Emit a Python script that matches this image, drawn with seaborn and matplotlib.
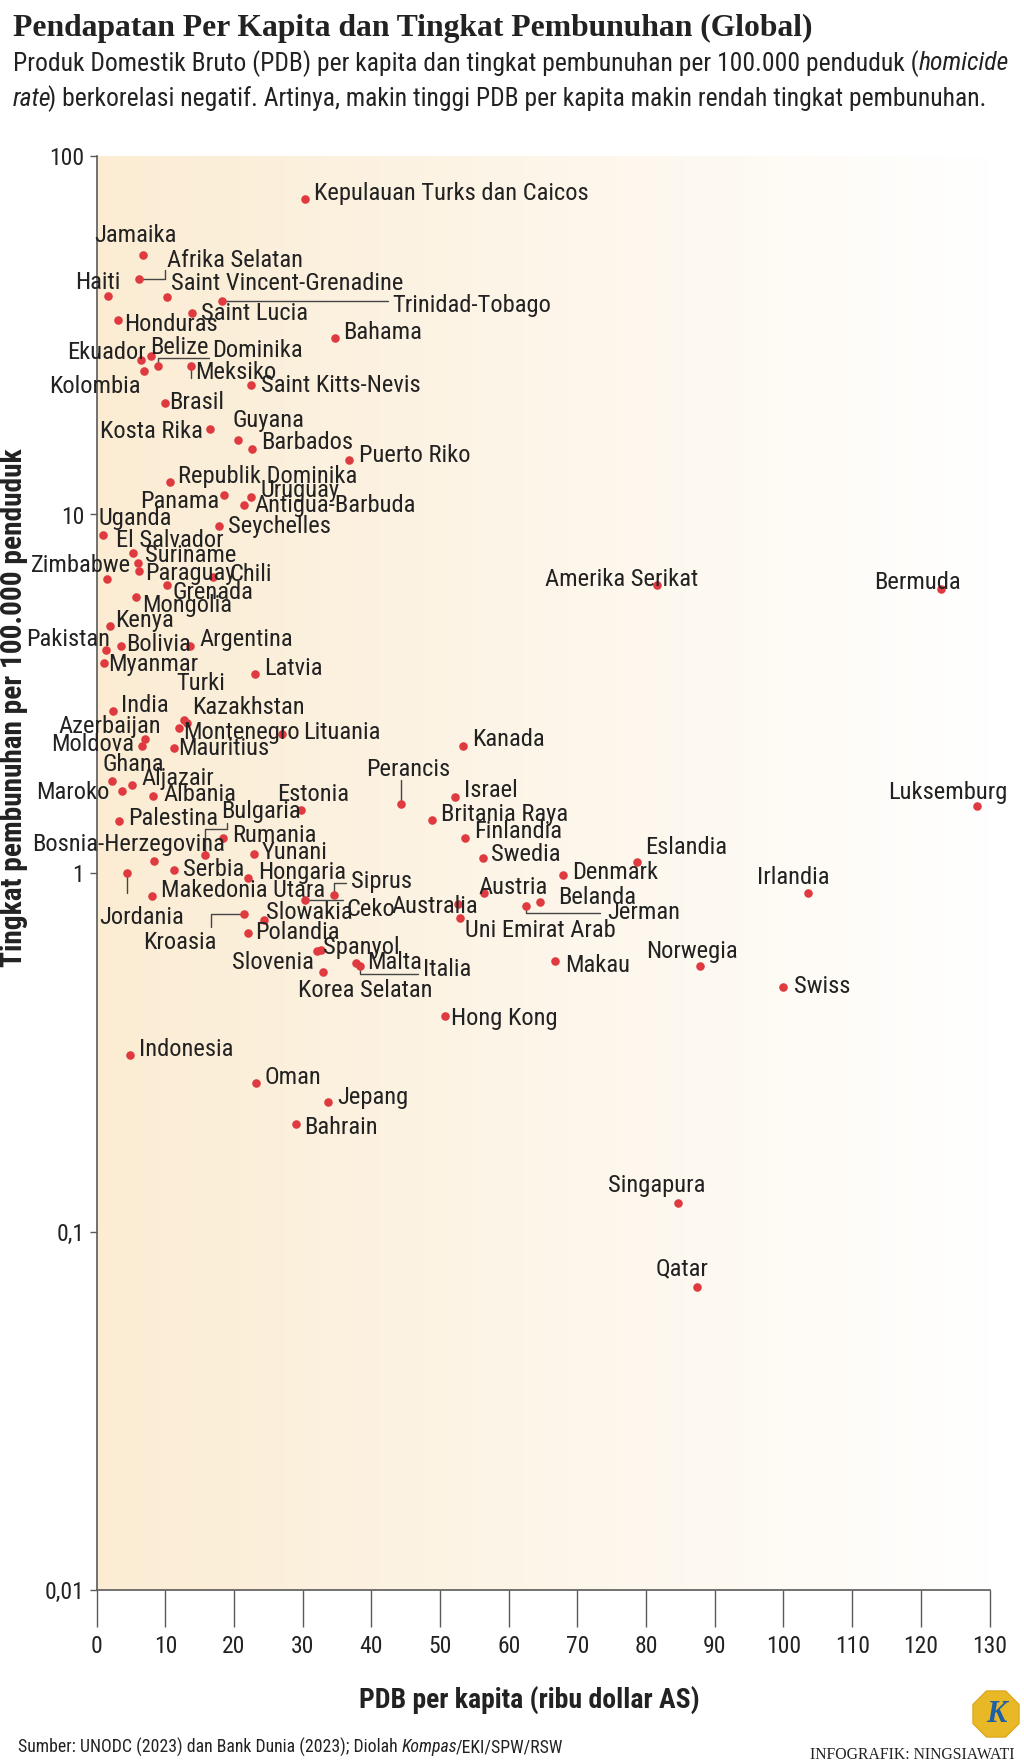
import numpy as np
import matplotlib
matplotlib.use("Agg")
import matplotlib.pyplot as plt
import seaborn as sns
from matplotlib import font_manager as fm
from matplotlib.patches import RegularPolygon
from matplotlib.transforms import IdentityTransform
from matplotlib.ticker import NullLocator

# ---------------- data ----------------
countries = [
    "Kepulauan Turks dan Caicos", "Jamaika", "Afrika Selatan", "Haiti", "Saint Vincent-Grenadine",
    "Trinidad-Tobago", "Saint Lucia", "Honduras", "Bahama", "Ekuador", "Belize", "Dominika",
    "Kolombia", "Meksiko", "Saint Kitts-Nevis", "Brasil", "Kosta Rika", "Guyana", "Barbados",
    "Puerto Riko", "Republik Dominika", "Panama", "Uruguay", "Antigua-Barbuda", "Seychelles",
    "Uganda", "El Salvador", "Zimbabwe", "Suriname", "Paraguay", "Chili", "Grenada", "Mongolia",
    "Kenya", "Pakistan", "Bolivia", "Argentina", "Myanmar", "Latvia", "Turki", "Kazakhstan",
    "Montenegro", "Lituania", "Mauritius", "India", "Azerbaijan", "Moldova", "Ghana", "Maroko",
    "Aljazair", "Albania", "Palestina", "Estonia", "Bulgaria", "Rumania", "Bosnia-Herzegovina",
    "Jordania", "Serbia", "Makedonia Utara", "Yunani", "Hongaria", "Kroasia", "Slowakia",
    "Polandia", "Ceko", "Siprus", "Slovenia", "Spanyol", "Korea Selatan", "Malta", "Italia",
    "Perancis", "Israel", "Britania Raya", "Finlandia", "Swedia", "Denmark", "Eslandia", "Austria",
    "Australia", "Uni Emirat Arab", "Belanda", "Jerman", "Makau", "Hong Kong", "Kanada",
    "Amerika Serikat", "Bermuda", "Luksemburg", "Irlandia", "Norwegia", "Swiss", "Indonesia",
    "Oman", "Jepang", "Bahrain", "Singapura", "Qatar",
]
gdp_per_capita = [
    30.3, 6.8, 6.2, 1.6, 10.2,
    18.2, 13.9, 3.1, 34.7, 6.45, 7.9, 8.9,
    6.9, 13.8, 22.5, 9.9, 16.5, 20.6, 22.6,
    36.7, 10.7, 18.6, 22.5, 21.4, 17.8,
    0.87, 5.3, 1.55, 5.95, 6.15, 16.9, 10.3, 5.7,
    1.9, 1.3, 3.6, 13.6, 1.06, 23.1, 12.75, 13.1,
    11.98, 27.0, 11.3, 2.4, 7.08, 6.55, 2.18, 3.64,
    5.2, 8.25, 3.3, 29.7, 15.7, 18.35, 8.3,
    4.37, 11.25, 8.1, 22.9, 22.0, 21.4, 24.4,
    22.0, 30.3, 34.6, 32.1, 32.6, 33.0, 37.75, 38.3,
    44.35, 52.2, 48.8, 53.7, 56.2, 67.9, 78.7, 56.4,
    52.65, 52.9, 64.6, 62.5, 66.8, 50.65, 53.3,
    81.6, 122.9, 128.2, 103.6, 87.85, 99.9, 4.82,
    23.2, 33.7, 29.0, 84.6, 87.4,
]
homicide_rate = [
    76.0, 52.9, 45.3, 40.7, 40.3,
    39.3, 36.5, 34.9, 31.1, 26.9, 27.7, 26.0,
    25.2, 25.9, 23.0, 20.5, 17.3, 16.1, 15.2,
    14.2, 12.35, 11.3, 11.2, 10.6, 9.3,
    8.75, 7.8, 6.6, 7.3, 6.95, 6.7, 6.35, 5.9,
    4.9, 4.2, 4.3, 4.3, 3.86, 3.6, 2.68, 2.62,
    2.54, 2.44, 2.23, 2.83, 2.37, 2.26, 1.81, 1.69,
    1.76, 1.64, 1.40, 1.50, 1.12, 1.25, 1.08,
    1.0, 1.02, 0.86, 1.13, 0.97, 0.77, 0.74,
    0.68, 0.84, 0.87, 0.607, 0.61, 0.53, 0.56, 0.55,
    1.56, 1.63, 1.41, 1.25, 1.10, 0.99, 1.07, 0.88,
    0.82, 0.75, 0.83, 0.81, 0.57, 0.40, 2.26,
    6.36, 6.18, 1.535, 0.88, 0.55, 0.48, 0.31,
    0.26, 0.23, 0.20, 0.12, 0.07,
]
x_ticks = [0, 10, 20, 30, 40, 50, 60, 70, 80, 90, 100, 110, 120, 130]
x_tick_labels = [str(v) for v in x_ticks]
y_ticks = [0.01, 0.1, 1, 10, 100]
y_tick_labels = ["0,01", "0,1", "1", "10", "100"]

title = "Pendapatan Per Kapita dan Tingkat Pembunuhan (Global)"
subtitle_1 = [("Produk Domestik Bruto (PDB) per kapita dan tingkat pembunuhan per 100.000 penduduk (", "normal"),
              ("homicide", "italic")]
subtitle_2 = [("rate", "italic"),
              (") berkorelasi negatif. Artinya, makin tinggi PDB per kapita makin rendah tingkat pembunuhan.", "normal")]
source_parts = [("Sumber: UNODC (2023) dan Bank Dunia (2023); Diolah ", "normal"), ("Kompas", "italic"),
                ("/EKI/SPW/RSW", "normal")]
credit = "INFOGRAFIK: NINGSIAWATI"
x_label = "PDB per kapita (ribu dollar AS)"
y_label = "Tingkat pembunuhan per 100.000 penduduk"

# ---------------- label layout (pixel offsets from dot, image y-down) ----------------
label_pos = {
    "Kepulauan Turks dan Caicos": (9, -8, "left"), "Jamaika": (-8, -22, "center"),
    "Afrika Selatan": (28, -21, "left"), "Haiti": (13, -16, "right"),
    "Saint Vincent-Grenadine": (4, -16, "left"), "Trinidad-Tobago": (171, 2, "left"),
    "Saint Lucia": (9, -2, "left"), "Honduras": (6, 2, "left"), "Bahama": (8, -8, "left"),
    "Ekuador": (5, -10, "right"), "Belize": (-1, -11, "left"), "Dominika": (54, -18, "left"),
    "Kolombia": (-3, 13, "right"), "Meksiko": (4, 4, "left"), "Saint Kitts-Nevis": (10, -2, "left"),
    "Brasil": (4, -3, "left"), "Kosta Rika": (-7, 0, "right"), "Guyana": (-6, -22, "left"),
    "Barbados": (9, -9, "left"), "Puerto Riko": (10, -7, "left"), "Republik Dominika": (8, -8, "left"),
    "Panama": (-5, 4, "right"), "Uruguay": (9, -9, "left"), "Antigua-Barbuda": (11, -2, "left"),
    "Seychelles": (9, -2, "left"), "Uganda": (-4, -19, "left"), "El Salvador": (-17, -15, "left"),
    "Zimbabwe": (24, -16, "right"), "Suriname": (7, -10, "left"), "Paraguay": (6, 0, "left"),
    "Chili": (17, -5, "left"), "Grenada": (5, 5, "left"), "Mongolia": (6, 6, "left"),
    "Kenya": (5, -8, "left"), "Pakistan": (4, -13, "right"), "Bolivia": (5, -4, "left"),
    "Argentina": (9, -9, "left"), "Myanmar": (4, -1, "left"), "Latvia": (9, -8, "left"),
    "Turki": (-8, -39, "left"), "Kazakhstan": (5, -18, "left"), "Montenegro": (4, 2, "left"),
    "Lituania": (21, -4, "left"), "Mauritius": (4, -2, "left"), "India": (8, -8, "left"),
    "Azerbaijan": (16, -15, "right"), "Moldova": (-8, -4, "right"), "Ghana": (-9, -19, "left"),
    "Maroko": (-12, -1, "right"), "Aljazair": (9, -9, "left"), "Albania": (10, -4, "left"),
    "Palestina": (9, -5, "left"), "Estonia": (-24, -18, "left"), "Bulgaria": (17, -46, "left"),
    "Rumania": (9, -5, "left"), "Bosnia-Herzegovina": (71, -19, "right"),
    "Jordania": (15, 42, "center"), "Serbia": (9, -3, "left"), "Makedonia Utara": (9, -8, "left"),
    "Yunani": (8, -4, "left"), "Hongaria": (10, -8, "left"), "Kroasia": (-27, 26, "right"),
    "Slowakia": (2, -10, "left"), "Polandia": (7, -3, "left"), "Ceko": (42, 7, "left"),
    "Siprus": (17, -16, "left"), "Slovenia": (-3, 9, "right"), "Spanyol": (2, -5, "left"),
    "Korea Selatan": (-25, 16, "left"), "Malta": (11, -3, "left"), "Italia": (63, 1, "left"),
    "Perancis": (7, -37, "center"), "Israel": (9, -9, "left"), "Britania Raya": (9, -8, "left"),
    "Finlandia": (9, -9, "left"), "Swedia": (8, -6, "left"), "Denmark": (9, -5, "left"),
    "Eslandia": (8, -17, "left"), "Austria": (-6, -8, "left"), "Australia": (20, 0, "right"),
    "Uni Emirat Arab": (5, 10, "left"), "Belanda": (18, -7, "left"), "Jerman": (81, 4, "left"),
    "Makau": (10, 2, "left"), "Hong Kong": (6, 0, "left"), "Kanada": (9, -9, "left"),
    "Amerika Serikat": (-35, -8, "center"), "Bermuda": (-23, -9, "center"),
    "Luksemburg": (-29, -16, "center"), "Irlandia": (-15, -18, "center"),
    "Norwegia": (-8, -17, "center"), "Swiss": (11, -3, "left"), "Indonesia": (9, -8, "left"),
    "Oman": (8, -8, "left"), "Jepang": (9, -7, "left"), "Bahrain": (8, 1, "left"),
    "Singapura": (-21, -20, "center"), "Qatar": (-15, -21, "center"),
}
leaders = {
    "Afrika Selatan": [(0, 0), (26, 0), (26, -9)],
    "Trinidad-Tobago": [(0, 0), (166, 0)],
    "Dominika": [(0, 0), (0, -8), (51, -8)],
    "Meksiko": [(0, 0), (0, 12)],
    "Bulgaria": [(0, 0), (0, -26), (22, -26), (22, -32)],
    "Jordania": [(0, 0), (0, 20)],
    "Kroasia": [(0, 0), (-33, 0), (-33, 13)],
    "Ceko": [(0, 0), (38, 0)],
    "Siprus": [(0, 0), (0, -12), (12, -12)],
    "Italia": [(0, 0), (0, 8), (58, 8)],
    "Perancis": [(0, 0), (0, -24)],
    "Jerman": [(0, 0), (0, 7), (74, 7)],
}

# ---------------- style ----------------
sns.set_theme(style="white")
installed = {f.name for f in fm.fontManager.ttflist}
if "Roboto Condensed" in installed:
    SANS = "Roboto Condensed"
elif "Roboto" in installed:
    SANS = "Roboto"
else:
    SANS = "DejaVu Sans"
SERIF = "Liberation Serif" if "Liberation Serif" in installed else "DejaVu Serif"
plt.rcParams["font.family"] = [SANS, "DejaVu Sans"]

TXT = "#222222"
RED = "#DE3A3F"
AXC = "#5a5a5a"
W, H = 1024, 1762

fig = plt.figure(figsize=(W / 100, H / 100), dpi=100)
fig.patch.set_facecolor("white")
REN = fig.canvas.get_renderer()


def fx(px):
    return px / W


def fy(py):
    return 1 - py / H


def text_width(s, size, **kw):
    t = fig.text(0, 0, s, fontsize=size, **kw)
    w = t.get_window_extent(REN).width
    t.remove()
    return w


def fit(s, target, **kw):
    return 20 * target / text_width(s, 20, **kw)


def rich_line(x_px, y_px, parts, size, **kw):
    x = x_px
    for s, st in parts:
        t = fig.text(fx(x), fy(y_px), s, fontsize=size, style=st, ha="left",
                     va="center_baseline", color=TXT, **kw)
        x += t.get_window_extent(REN).width
        if st == "italic":
            x -= 0.12 * size * 100 / 72


# axes geometry (pixels)
L, R, T, B = 96.7, 989.5, 156, 1590
rect = [fx(L), fy(B), fx(R) - fx(L), fy(T) - fy(B)]

bg = fig.add_axes(rect, zorder=0)
g = np.linspace(0, 1, 512)[None, :, None]
c0 = np.array([251, 236, 211]) / 255.0
c1 = np.array([255, 255, 255]) / 255.0
bg.imshow(c0 * (1 - g) + c1 * g, aspect="auto", extent=[0, 1, 0, 1])
bg.axis("off")

ax = fig.add_axes(rect, zorder=1)
ax.patch.set_alpha(0)

sns.scatterplot(x=gdp_per_capita, y=homicide_rate, ax=ax, color=RED, s=38,
                linewidth=0, zorder=3, legend=False)
ax.set_yscale("log")
ax.set_xlim(0, 130)
ax.set_ylim(0.01, 100)

LBL = fit("Kepulauan Turks dan Caicos", 274)
TICK = fit("130", 35)

ax.set_xticks(x_ticks)
ax.set_xticklabels(x_tick_labels)
ax.set_yticks(y_ticks)
ax.set_yticklabels(y_tick_labels)
ax.yaxis.set_minor_locator(NullLocator())
ax.xaxis.set_minor_locator(NullLocator())
ax.tick_params(axis="x", direction="out", length=26.5, width=1.0, color=AXC, pad=6,
               labelsize=TICK, labelcolor=TXT, bottom=True)
ax.tick_params(axis="y", direction="out", length=5, width=1.0, color=AXC, pad=4,
               labelsize=TICK, labelcolor=TXT, left=True)
for sp in ["top", "right"]:
    ax.spines[sp].set_visible(False)
for sp in ["left", "bottom"]:
    ax.spines[sp].set_color(AXC)
    ax.spines[sp].set_linewidth(1.2)
ax.grid(False)
ax.set_xlabel("")
ax.set_ylabel("")

# labels & leaders
fig.canvas.draw()
inv = ax.transData.inverted()
for name, gx, hy in zip(countries, gdp_per_capita, homicide_rate):
    dx, dy, ha = label_pos[name]
    ax.annotate(name, (gx, hy), xytext=(dx, -dy), textcoords="offset pixels",
                ha=ha, va="center_baseline", fontsize=LBL, color=TXT, zorder=4,
                annotation_clip=False)
    if name in leaders:
        base = ax.transData.transform((gx, hy))
        disp = np.array([[base[0] + ox, base[1] - oy] for ox, oy in leaders[name]])
        dat = inv.transform(disp)
        ax.plot(dat[:, 0], dat[:, 1], color="#444444", lw=1.0, zorder=2, clip_on=False)

# axis titles
XL = fit(x_label, 340, weight="bold")
fig.text(fx(529), fy(1700), x_label, fontsize=XL, weight="bold", ha="center",
         va="center", color=TXT)
YL = fit(y_label, 517, weight="bold")
fig.text(fx(14), fy(708), y_label, fontsize=YL, weight="bold", rotation=90,
         ha="center", va="center", color=TXT)

# title & subtitle
TS = fit(title, 801, family=SERIF, weight="bold")
fig.text(fx(13), fy(25), title, fontsize=TS, family=SERIF, weight="bold",
         ha="left", va="center_baseline", color=TXT)
sub_w = sum(text_width(s, 20, style=st) for s, st in subtitle_1)
SS = 20 * 992 / sub_w
rich_line(13, 61, subtitle_1, SS)
rich_line(13, 96, subtitle_2, SS)

# footer
src_w = sum(text_width(s, 20, style=st) for s, st in source_parts)
FS = 20 * 544 / src_w
rich_line(18, 1745, source_parts, FS)
CS = fit(credit, 204, family=SERIF)
fig.text(fx(1014), fy(1753), credit, fontsize=CS, family=SERIF, ha="right",
         va="center_baseline", color=TXT)

# logo
fig.add_artist(RegularPolygon((996, H - 1714), numVertices=8, radius=25,
                              orientation=np.pi / 8, transform=IdentityTransform(),
                              facecolor="#E9B826", edgecolor="#D9A514", lw=0.8))
fig.text(fx(996), fy(1714), "K", fontsize=22, family=SERIF, style="italic",
         weight="bold", color="#1E5FA6", ha="center", va="center")

fig.savefig("out.png", dpi=100, facecolor="white")
